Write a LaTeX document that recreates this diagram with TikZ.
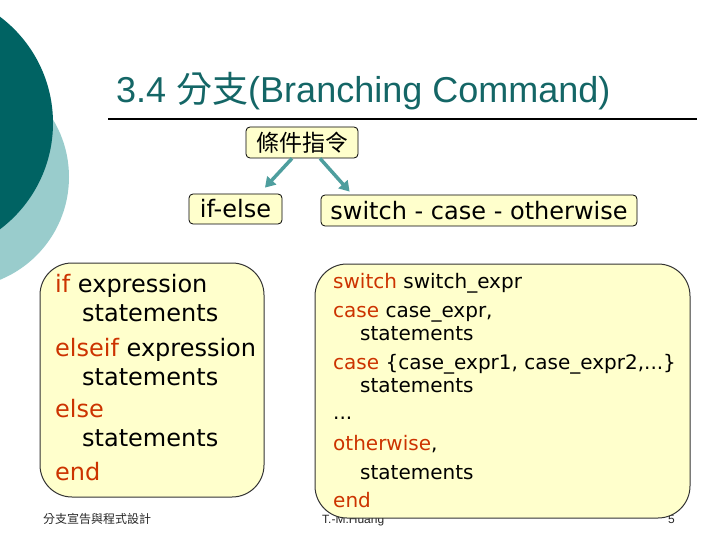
\documentclass[tikz,border=0pt]{standalone}
\usepackage{fontspec}
\usetikzlibrary{arrows.meta}
\newfontfamily\titlef{Liberation Sans}
\newfontfamily\bodyf{DejaVu Sans}
\newfontfamily\cjkf{Noto Sans CJK TC}
\definecolor{darkteal}{HTML}{006363}
\definecolor{lightteal}{HTML}{99CCCC}
\definecolor{titleteal}{HTML}{146666}
\definecolor{boxfill}{HTML}{FFFFCC}
\definecolor{kw}{HTML}{CC3300}
\definecolor{arrowteal}{HTML}{4E9E9E}
\tikzset{
  smallbox/.style={draw=black, line width=0.8pt, fill=boxfill, rounded corners=4pt, inner sep=0pt},
  bigbox/.style={draw=black!80, line width=1pt, fill=boxfill, rounded corners=32pt, inner sep=0pt},
  ltext/.style={anchor=base west, inner sep=0pt, font=\bodyf\fontsize{24}{28}\selectfont},
  rtext/.style={anchor=base west, inner sep=0pt, font=\bodyf\fontsize{20}{24}\selectfont},
  foot/.style={anchor=base west, inner sep=0pt, text=black!85, font=\titlef\fontsize{12}{14}\selectfont},
  branch/.style={line width=3.5pt, arrowteal, -{Triangle[length=10pt 0,width=12pt 0]}}
}
\begin{document}
\begin{tikzpicture}[x=1pt,y=-1pt]
\useasboundingbox (0,0) rectangle (720,540);
% background circles
\fill[lightteal] (-42,177) circle (111pt);
\fill[darkteal] (-80,123) circle (133pt);
% title
\node[anchor=base west, inner sep=0pt, text=titleteal, font=\titlef\fontsize{36}{40}\selectfont] (title) at (116,103) {3.4 {\cjkf 分支}(Branching Command)};
\coordinate (ruleL) at (108,119);
\coordinate (ruleR) at (697,119);
\draw[line width=2pt] (ruleL) -- (ruleR);
% footer
\node[foot] (f1) at (43,523) {\cjkf 分支宣告與程式設計};
\node[foot] (f2) at (322,523) {T.-M.Huang};
\node[foot] (f3) at (668,523) {5};
% small boxes
\node[smallbox, minimum width=112pt, minimum height=31pt, font=\cjkf\fontsize{23}{26}\selectfont] (cond) at (302,142.5) {條件指令};
\node[smallbox, minimum width=93pt, minimum height=30pt, font=\bodyf\fontsize{24}{28}\selectfont] (ifelse) at (235.5,209) {if-else};
\node[smallbox, minimum width=316pt, minimum height=31pt, font=\bodyf\fontsize{24}{28}\selectfont] (switch) at (479,210.5) {switch - case - otherwise};
\draw[branch] ([xshift=-10pt]cond.south) -- ([xshift=29.5pt,yshift=6pt]ifelse.north);
\draw[branch] ([xshift=18pt]cond.south) -- ([xshift=29pt,yshift=3pt]switch.north west);
% big boxes
\node[bigbox, minimum width=224pt, minimum height=234pt] (lbox) at (152,380) {};
\node[bigbox, minimum width=375pt, minimum height=254pt] (rbox) at (502.5,391) {};
% left text
\node[ltext] (l1) at (55,292) {\textcolor{kw}{if} expression};
\node[ltext] (l2) at (82,321) {statements};
\node[ltext] (l3) at (55,356) {\textcolor{kw}{elseif} expression};
\node[ltext] (l4) at (82,385) {statements};
\node[ltext] (l5) at (55,417) {\textcolor{kw}{else}};
\node[ltext] (l6) at (82,446) {statements};
\node[ltext] (l7) at (55,480) {\textcolor{kw}{end}};
% right text
\node[rtext] (r1) at (333,288) {\textcolor{kw}{switch} switch\_expr};
\node[rtext] (r2) at (333,317) {\textcolor{kw}{case} case\_expr,};
\node[rtext] (r3) at (360,340) {statements};
\node[rtext] (r4) at (333,369) {\textcolor{kw}{case} \{case\_expr1, case\_expr2,...\}};
\node[rtext] (r5) at (360,392) {statements};
\node[rtext] (r6) at (333,419) {...};
\node[rtext] (r7) at (333,450) {\textcolor{kw}{otherwise},};
\node[rtext] (r8) at (360,479) {statements};
\node[rtext] (r9) at (333,507) {\textcolor{kw}{end}};
\end{tikzpicture}
\end{document}
